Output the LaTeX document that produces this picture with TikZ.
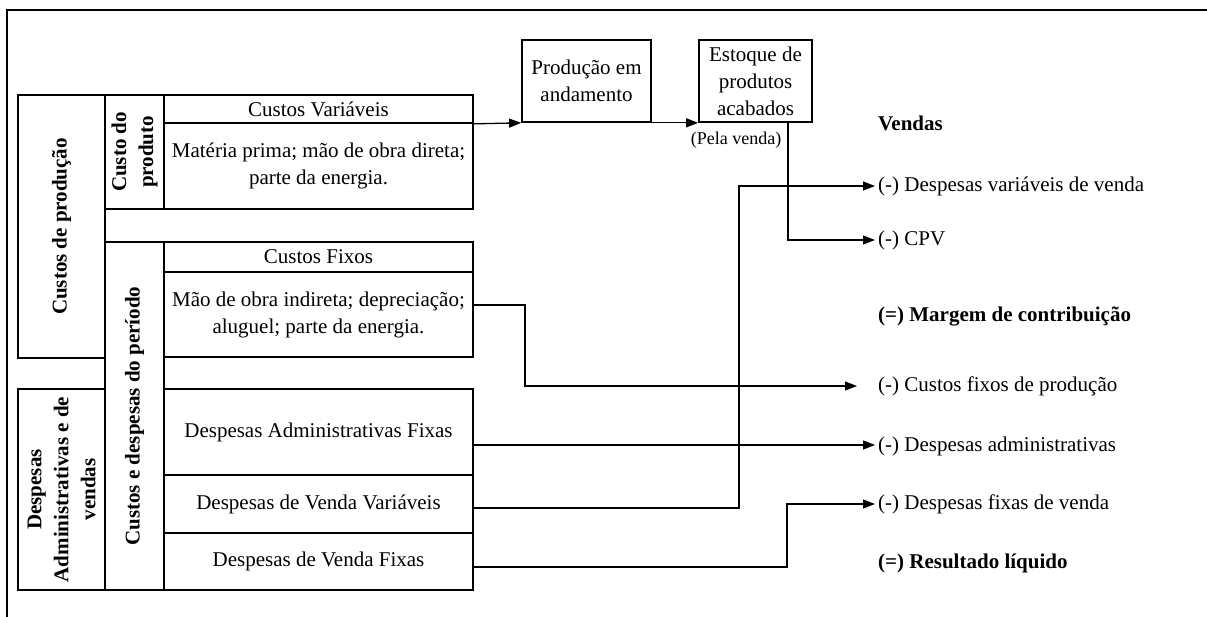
\documentclass[tikz,border=0pt]{standalone}
\usepackage{fontspec}
\setmainfont{Liberation Serif}
\usetikzlibrary{arrows.meta}
\begin{document}
\begin{tikzpicture}[x=1pt,y=-1pt,
  txt/.style={font=\fontsize{21}{27}\selectfont},
  bld/.style={font=\fontsize{21}{27}\selectfont\bfseries},
  cell/.style={draw, line width=1.7pt, inner sep=0pt, align=center, txt},
  vcell/.style={draw, line width=1.7pt, inner sep=0pt, align=center, bld, rotate=90},
  conn/.style={line width=1.3pt, -{Triangle[length=12pt,width=9pt]}},
  res/.style={anchor=west, inner xsep=3pt, inner ysep=1pt, txt},
  resb/.style={anchor=west, inner xsep=3pt, inner ysep=1pt, bld}]
\useasboundingbox (0,0) rectangle (1207,617);
% frame
\draw[line width=2pt] (7,617) -- (7,10) -- (1207,10);
% left table
\node[vcell, minimum width=263pt, minimum height=87pt] (cp) at (61.5,226.5) {Custos de produção};
\node[vcell, minimum width=114pt, minimum height=59pt] (cdp) at (134.5,152) {Custo do\\produto};
\node[cell, minimum width=309pt, minimum height=28pt] (cv) at (318.5,109) {Custos Variáveis};
\node[cell, minimum width=309pt, minimum height=86pt] (mp) at (318.5,166) {Matéria prima; mão de obra direta;\\parte da energia.};
\node[vcell, minimum width=348pt, minimum height=59pt] (cdpp) at (134.5,416) {Custos e despesas do período};
\node[cell, minimum width=309pt, minimum height=30pt] (cf) at (318.5,257) {Custos Fixos};
\node[cell, minimum width=309pt, minimum height=85pt] (mo) at (318.5,314.5) {Mão de obra indireta; depreciação;\\aluguel; parte da energia.};
\node[vcell, minimum width=201pt, minimum height=87pt] (dav) at (61.5,489.5) {Despesas\\Administrativas e de\\vendas};
\node[cell, minimum width=309pt, minimum height=86pt] (daf) at (318.5,432) {Despesas Administrativas Fixas};
\node[cell, minimum width=309pt, minimum height=58pt] (dvv) at (318.5,504) {Despesas de Venda Variáveis};
\node[cell, minimum width=309pt, minimum height=57pt] (dvf) at (318.5,561.5) {Despesas de Venda Fixas};
% production boxes
\node[cell, minimum width=129pt, minimum height=82pt] (pea) at (586.5,81) {Produção em\\andamento};
\node[cell, minimum width=113pt, minimum height=82pt] (est) at (755.5,81) {Estoque de\\produtos\\acabados};
\node[font=\fontsize{18}{20}\selectfont, inner sep=0pt] (pv) at (736,140) {(Pela venda)};
% result column
\node[resb] (vendas) at (875,123) {Vendas};
\node[res] (dvv2) at (875,186) {(-) Despesas variáveis de venda};
\node[res] (cpv) at (875,240) {(-) CPV};
\node[resb] (mc) at (875,317) {(=) Margem de contribuição};
\node[res] (cfp) at (875,386) {(-) Custos fixos de produção};
\node[res] (dadm) at (875,446) {(-) Despesas administrativas};
\node[res] (dfv) at (875,504) {(-) Despesas fixas de venda};
\node[resb] (rl) at (875,563) {(=) Resultado líquido};
% bend coordinates
\coordinate (k1) at (525,0);
\coordinate (k2) at (739,0);
\coordinate (k3) at (787,0);
\coordinate (s1) at ([yshift=9.5pt]mo.east);
\coordinate (s2) at ([yshift=-13pt]daf.east);
\coordinate (s3) at ([yshift=-4pt]dvv.east);
\coordinate (s4) at ([yshift=-5.5pt]dvf.east);
% connectors
\draw[conn] (cv.south east) -- (pea.south west);
\draw[conn] (pea.south east) -- (est.south west);
\draw[conn] ([xshift=32.5pt]est.south) |- (cpv.west);
\draw[conn] (s3) -- (s3 -| k2) |- (dvv2.west);
\draw[conn, shorten >=18pt] (s1) -- (s1 -| k1) |- (cfp.west);
\draw[conn] (s2) -- (dadm.west |- s2);
\draw[conn] (s4) -- (s4 -| k3) |- (dfv.west);
\end{tikzpicture}
\end{document}
